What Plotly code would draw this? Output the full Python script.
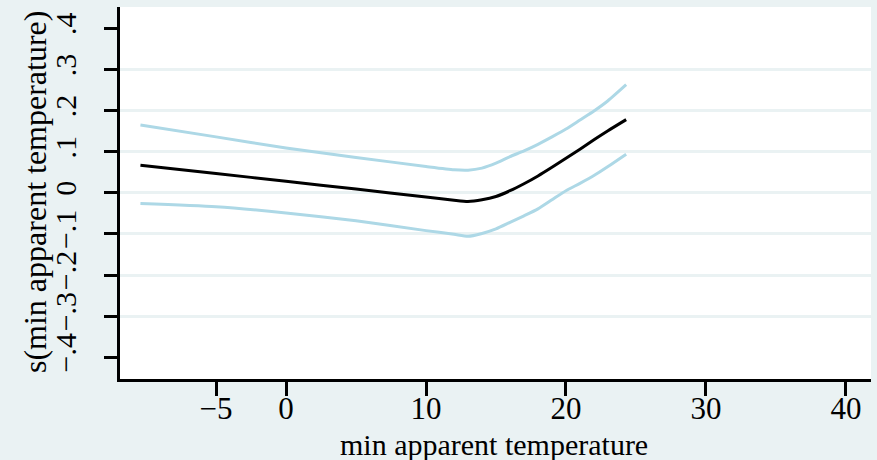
import plotly.graph_objects as go

# Data
x_vals = [-10.4, -5, 0, 5, 10, 12, 13, 14, 15, 16, 17, 18, 19, 20, 21, 22, 23, 24.3]
fit = [0.067, 0.047, 0.028, 0.009, -0.010, -0.018, -0.021, -0.017, -0.009, 0.005, 0.022,
       0.041, 0.062, 0.084, 0.106, 0.129, 0.151, 0.178]
upper = [0.165, 0.136, 0.109, 0.086, 0.064, 0.056, 0.055, 0.060, 0.072, 0.088, 0.102,
         0.118, 0.136, 0.155, 0.177, 0.199, 0.224, 0.263]
lower = [-0.026, -0.034, -0.049, -0.068, -0.092, -0.101, -0.106, -0.099, -0.088, -0.072,
         -0.056, -0.039, -0.017, 0.005, 0.023, 0.042, 0.064, 0.094]

x_ticks = [-5, 0, 10, 20, 30, 40]
y_ticks = [-0.4, -0.3, -0.2, -0.1, 0, 0.1, 0.2, 0.3, 0.4]
y_ticktext = ["\u2212.4", "\u2212.3", "\u2212.2", "\u2212.1", "0", ".1", ".2", ".3", ".4"]
y_grid = [-0.3, -0.2, -0.1, 0, 0.1, 0.2, 0.3]

x_title = "min apparent temperature"
y_title = "s(min apparent temperature)"

FONT = "Liberation Serif"
CI_COLOR = "#add8e6"
BG = "#eaf2f3"

fig = go.Figure()
for ys, col in [(upper, CI_COLOR), (lower, CI_COLOR), (fit, "#000000")]:
    fig.add_trace(go.Scatter(
        x=x_vals, y=ys, mode="lines",
        line=dict(color=col, width=3, shape="spline", smoothing=0.6),
        showlegend=False, hoverinfo="skip"))

fig.update_layout(
    width=877, height=460,
    margin=dict(l=120, r=6, t=7, b=81),
    paper_bgcolor=BG, plot_bgcolor="#ffffff",
    font=dict(family=FONT, color="#000000"),
    showlegend=False,
)

fig.update_xaxes(
    range=[-11.86, 41.79], tickvals=x_ticks, ticks="outside", ticklen=14, tickwidth=3,
    tickcolor="#000000", showline=True, linecolor="#000000", linewidth=3,
    showgrid=False, zeroline=False, ticklabelstandoff=-14,
    tickfont=dict(family=FONT, size=31, color="#000000"),
)
fig.update_yaxes(
    range=[-0.453, 0.452], tickvals=y_ticks, ticktext=y_ticktext, tickangle=-90,
    ticks="outside", ticklen=13, tickwidth=3, tickcolor="#000000",
    showline=True, linecolor="#000000", linewidth=3,
    showgrid=False, zeroline=False, ticklabelstandoff=16,
    tickfont=dict(family=FONT, size=30, color="#000000"),
    minor=dict(tickvals=y_grid, showgrid=True, gridcolor=BG, gridwidth=3, ticks=""),
)

fig.add_annotation(text=x_title, xref="paper", yref="paper", x=0.498, y=-0.176,
                   xanchor="center", yanchor="middle", showarrow=False,
                   font=dict(family=FONT, size=30, color="#000000"))
fig.add_annotation(text=y_title, xref="paper", yref="paper", x=-0.113, y=0.503,
                   xanchor="center", yanchor="middle", showarrow=False, textangle=-90,
                   font=dict(family=FONT, size=32, color="#000000"))

fig.write_html("out.html")
